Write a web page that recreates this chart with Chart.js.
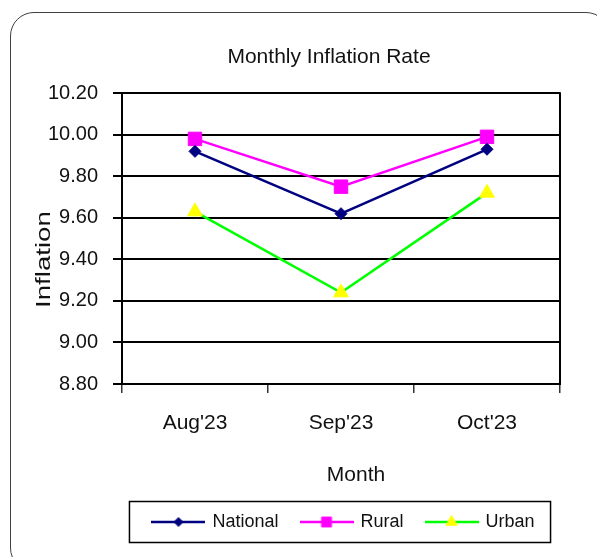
<!DOCTYPE html>
<html>
<head>
<meta charset="utf-8">
<title>Monthly Inflation Rate</title>
<script src="https://cdn.jsdelivr.net/npm/chart.js@4.4.0/dist/chart.umd.min.js"></script>
<style>
  html, body { margin: 0; padding: 0; background: #fff; overflow: hidden; }
  #wrap { position: relative; width: 597px; height: 557px; overflow: hidden; }
  #frame {
    position: absolute; left: 10px; top: 12px; width: 600px; height: 560px;
    border: 1.5px solid #404040; border-radius: 24px; box-sizing: border-box;
  }
  #chart { position: absolute; left: 0; top: 0; }
</style>
</head>
<body>
<div id="wrap">
  <div id="frame"></div>
  <canvas id="chart" width="597" height="557"></canvas>
</div>
<script>
// Chart data
const months = ["Aug'23", "Sep'23", "Oct'23"];
const national = [9.92, 9.62, 9.93];
const rural = [9.98, 9.75, 9.99];
const urban = [9.63, 9.24, 9.72];
const yTicks = [8.8, 9.0, 9.2, 9.4, 9.6, 9.8, 10.0, 10.2];

const chartTitle = 'Monthly Inflation Rate';
const xTitle = 'Month';
const yTitle = 'Inflation';

const FONT = '"Liberation Sans", Arial, sans-serif';
Chart.defaults.font.family = FONT;
Chart.defaults.color = '#111';

// Legend icon: short line with the marker in the middle
function legendIcon(lineColor, markColor, style, radius) {
  const c = document.createElement('canvas');
  c.width = 54;
  c.height = 20;
  const ctx = c.getContext('2d');
  ctx.strokeStyle = lineColor;
  ctx.lineWidth = 2.5;
  ctx.beginPath();
  ctx.moveTo(0, 10);
  ctx.lineTo(54, 10);
  ctx.stroke();
  ctx.fillStyle = markColor;
  ctx.strokeStyle = markColor;
  ctx.lineWidth = 1;
  Chart.helpers.drawPoint(ctx, { pointStyle: style, radius: radius, borderWidth: 1, rotation: 0 }, 27, 10);
  return c;
}

const series = [
  { label: 'National', data: national, line: '#000080', mark: '#000080', style: 'rectRot', r: 6, lr: 4.5 },
  { label: 'Rural', data: rural, line: '#FF00FF', mark: '#FF00FF', style: 'rect', r: 9.5, lr: 7 },
  { label: 'Urban', data: urban, line: '#00FF00', mark: '#FFFF00', style: 'triangle', r: 8.5, lr: 6.5 }
];

const icons = series.map(s => legendIcon(s.line, s.mark, s.style, s.lr));

// Position tweaks, frame lines and axis titles
const framePlugin = {
  id: 'framePlugin',
  afterLayout(chart) {
    const area = chart.chartArea;
    const t = chart.titleBlock;
    const tw = t.right - t.left;
    t.left = 329 - tw / 2;
    t.right = 329 + tw / 2;
    const lg = chart.legend;
    const lw = lg.right - lg.left;
    const mid = (area.left + area.right) / 2 + 3;
    lg.left = mid - lw / 2;
    lg.right = mid + lw / 2;
  },
  beforeDatasetsDraw(chart) {
    const { ctx, chartArea } = chart;
    ctx.save();
    ctx.strokeStyle = '#000';
    ctx.lineWidth = 2;
    ctx.beginPath();
    ctx.moveTo(chartArea.right, chartArea.top - 1);
    ctx.lineTo(chartArea.right, chartArea.bottom + 1);
    ctx.stroke();
    ctx.restore();
  },
  afterDraw(chart) {
    const { ctx, chartArea } = chart;
    const boxes = chart.legend.legendHitBoxes;
    ctx.save();

    // legend frame
    if (boxes.length) {
      const left = Math.min(...boxes.map(b => b.left)) - 24;
      const right = Math.max(...boxes.map(b => b.left + b.width)) + 16;
      const cy = boxes[0].top + boxes[0].height / 2;
      ctx.strokeStyle = '#000';
      ctx.lineWidth = 1.5;
      ctx.strokeRect(left, cy - 20.5, right - left, 41);
    }

    // axis titles
    ctx.fillStyle = '#111';
    ctx.textAlign = 'center';
    ctx.textBaseline = 'middle';
    ctx.font = '21px ' + FONT;
    ctx.fillText(xTitle, (chartArea.left + chartArea.right) / 2 + 15, 475);

    ctx.translate(44, (chartArea.top + chartArea.bottom) / 2 + 21);
    ctx.rotate(-Math.PI / 2);
    ctx.scale(1.38, 1);
    ctx.font = '20px ' + FONT;
    ctx.fillText(yTitle, 0, 0);
    ctx.restore();
  }
};

new Chart(document.getElementById('chart'), {
  type: 'line',
  data: {
    labels: months,
    datasets: series.map(s => ({
      label: s.label,
      data: s.data,
      borderColor: s.line,
      backgroundColor: s.mark,
      borderWidth: 2.5,
      pointStyle: s.style,
      pointRadius: s.r,
      pointBackgroundColor: s.mark,
      pointBorderColor: s.mark,
      pointBorderWidth: 1,
      tension: 0,
      fill: false,
      clip: false
    }))
  },
  options: {
    responsive: false,
    animation: false,
    devicePixelRatio: 1,
    layout: { padding: { top: 0, left: 10, right: 37, bottom: 16 } },
    plugins: {
      title: {
        display: true,
        text: chartTitle,
        color: '#111',
        font: { size: 21, weight: 'normal' },
        padding: { top: 45, bottom: 23 }
      },
      legend: {
        position: 'bottom',
        labels: {
          usePointStyle: true,
          pointStyleWidth: 50,
          boxHeight: 16,
          padding: 23,
          color: '#111',
          font: { size: 18 },
          generateLabels: chart => chart.data.datasets.map((ds, i) => ({
            text: ds.label,
            pointStyle: icons[i],
            fillStyle: 'transparent',
            strokeStyle: 'transparent',
            lineWidth: 0,
            fontColor: '#111',
            hidden: false,
            datasetIndex: i
          }))
        }
      },
      tooltip: { enabled: false }
    },
    scales: {
      x: {
        offset: true,
        afterFit: scale => { scale.height = 106; },
        grid: {
          display: true,
          offset: true,
          drawOnChartArea: false,
          drawTicks: true,
          tickLength: 9,
          color: '#333',
          lineWidth: 1.5
        },
        border: { display: true, color: '#000', width: 2 },
        ticks: { padding: 18, color: '#111', font: { size: 21 } }
      },
      y: {
        min: 8.8,
        max: 10.2,
        afterBuildTicks: scale => { scale.ticks = yTicks.map(v => ({ value: v })); },
        afterFit: scale => { scale.width = 112; },
        grid: { color: '#000', lineWidth: 2, tickLength: 9, drawTicks: true },
        border: { display: true, color: '#000', width: 2 },
        ticks: {
          padding: 15,
          color: '#111',
          font: { size: 20 },
          callback: v => Number(v).toFixed(2)
        }
      }
    }
  },
  plugins: [framePlugin]
});
</script>
</body>
</html>
